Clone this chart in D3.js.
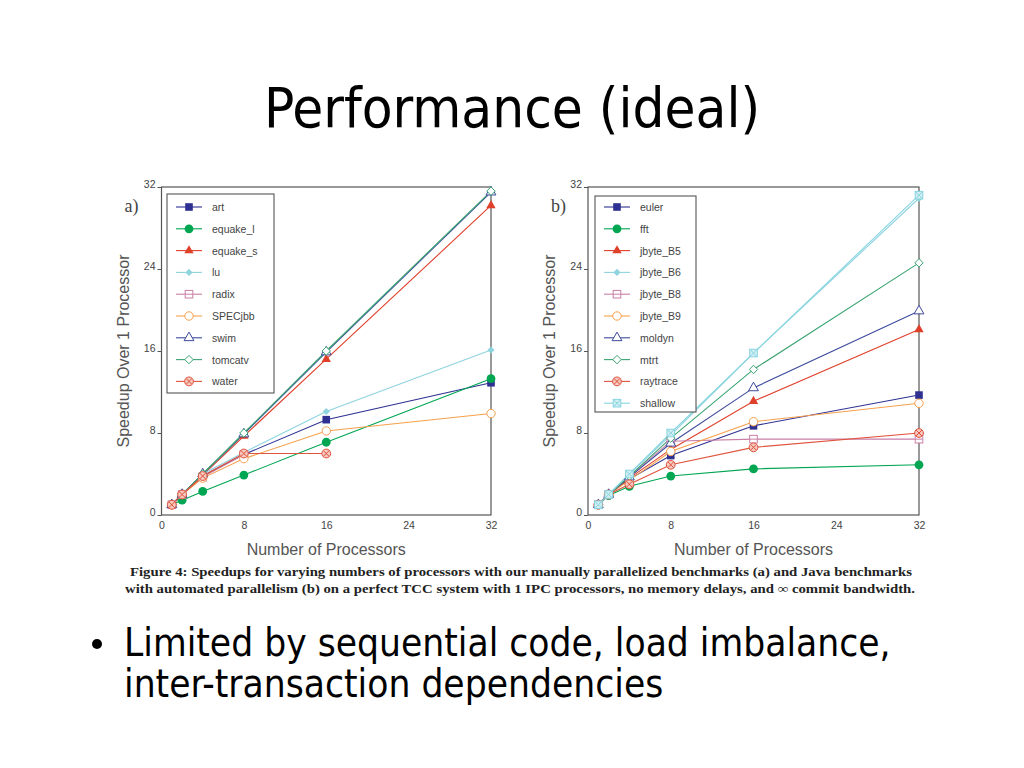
<!DOCTYPE html>
<html>
<head>
<meta charset="utf-8">
<script src="https://cdn.jsdelivr.net/npm/d3@7"></script>
<style>
  body { margin: 0; background: #fff; }
  svg { display: block; }
</style>
</head>
<body>
<svg id="slide" width="1024" height="768"></svg>
<script>
// x values shared by both panels
var processors = [1, 2, 4, 8, 16, 32];
var axisTicks = [0, 8, 16, 24, 32];

// panel a) manually parallelized benchmarks
var namesA = ["art", "equake_l", "equake_s", "lu", "radix", "SPECjbb", "swim", "tomcatv", "water"];
var valuesA = [
  [1, 2, 3.8, 5.9, 9.3, 12.9],
  [1, 1.45, 2.3, 3.9, 7.1, 13.3],
  [1, 2, 3.9, 7.7, 15.2, 30.2],
  [1, 2, 4, 6.1, 10.1, 16.1],
  [1, 2, 3.7, 5.9],
  [1, 2, 3.6, 5.5, 8.2, 9.9],
  [1, 2, 4, 7.9, 15.9, 31.5],
  [1, 2, 4, 8, 16, 31.6],
  [1, 2, 3.8, 6, 6]
];

// panel b) Java benchmarks with automated parallelism
var namesB = ["euler", "fft", "jbyte_B5", "jbyte_B6", "jbyte_B8", "jbyte_B9", "moldyn", "mtrt", "raytrace", "shallow"];
var valuesB = [
  [1, 2, 3.5, 5.8, 8.7, 11.7],
  [1, 1.9, 2.8, 3.8, 4.5, 4.9],
  [1, 2, 3.6, 6.4, 11.1, 18.1],
  [1, 2, 4, 7.8, 15.8, 30.9],
  [1, 2, 3.8, 7.2, 7.4, 7.4],
  [1, 2, 3.4, 6.2, 9.1, 10.9],
  [1, 2, 3.7, 7, 12.4, 19.9],
  [1, 2, 3.8, 7.5, 14.2, 24.6],
  [1, 2, 3, 4.9, 6.6, 8],
  [1, 2, 4, 8, 15.8, 31.2]
];

var colors = ["#2e3192", "#00a651", "#e0402a", "#8fd3df", "#c97fa6", "#f6a04d", "#3d4a9c", "#3aa472", "#e0533d", "#87d5e0"];
var shapes = ["sq", "ci", "tri", "dia", "sqline", "oci", "otri", "odia", "cix", "sqx"];

var svg = d3.select("#slide");

svg.append("text")
  .attr("x", 512).attr("y", 127)
  .attr("text-anchor", "middle")
  .style("font-family", "DejaVu Sans Condensed")
  .style("font-size", "56px")
  .text("Performance (ideal)");

function drawMarker(g, shape, color, cx, cy) {
  var s = 3.8;
  var m = g.append("g").attr("transform", "translate(" + cx + "," + cy + ")");
  if (shape == "sq") {
    m.append("rect").attr("x", -s).attr("y", -s).attr("width", 2 * s).attr("height", 2 * s).attr("fill", color);
  } else if (shape == "ci") {
    m.append("circle").attr("r", s + 0.6).attr("fill", color);
  } else if (shape == "tri") {
    m.append("path").attr("d", d3.symbol(d3.symbolTriangle, 38)).attr("fill", color);
  } else if (shape == "dia") {
    m.append("path").attr("d", "M0,-3.6L3.6,0L0,3.6L-3.6,0Z").attr("fill", color);
  } else if (shape == "sqline") {
    m.append("rect").attr("x", -s).attr("y", -s).attr("width", 2 * s).attr("height", 2 * s)
      .attr("fill", "#fff").attr("stroke", color);
    m.append("line").attr("x1", -s).attr("x2", s).attr("stroke", color);
  } else if (shape == "oci") {
    m.append("circle").attr("r", s + 0.4).attr("fill", "#fff").attr("stroke", color);
  } else if (shape == "otri") {
    m.append("path").attr("d", d3.symbol(d3.symbolTriangle, 42)).attr("fill", "#fff").attr("stroke", color);
  } else if (shape == "odia") {
    m.append("path").attr("d", "M0,-4.2L4.2,0L0,4.2L-4.2,0Z").attr("fill", "#fff").attr("stroke", color);
  } else if (shape == "cix") {
    m.append("circle").attr("r", s + 0.6).attr("fill", "#f6c7bd").attr("stroke", color);
    m.append("path").attr("d", "M-2.9,-2.9L2.9,2.9M-2.9,2.9L2.9,-2.9").attr("stroke", color);
  } else if (shape == "sqx") {
    m.append("rect").attr("x", -s).attr("y", -s).attr("width", 2 * s).attr("height", 2 * s)
      .attr("fill", "#d2eef3").attr("stroke", color);
    m.append("path").attr("d", "M-3.8,-3.8L3.8,3.8M-3.8,3.8L3.8,-3.8").attr("stroke", color);
  }
}

function drawPanel(opts) {
  var x = d3.scaleLinear().domain([0, 32]).range([opts.left, opts.right]);
  var y = d3.scaleLinear().domain([0, 32]).range([515, 187]);
  var g = svg.append("g");

  // frame
  g.append("rect")
    .attr("x", opts.left).attr("y", 187)
    .attr("width", opts.right - opts.left).attr("height", 328)
    .attr("fill", "none").attr("stroke", "#555").attr("stroke-width", 1.2);

  var ax = g.append("g").attr("transform", "translate(0,515)")
    .call(d3.axisBottom(x).tickValues(axisTicks).tickSize(0).tickPadding(7));
  var ay = g.append("g").attr("transform", "translate(" + opts.left + ",0)")
    .call(d3.axisLeft(y).tickValues(axisTicks).tickSize(4).tickPadding(2));
  [ax, ay].forEach(function (a) {
    a.select(".domain").remove();
    a.selectAll("line").attr("stroke", "#555");
    a.selectAll("text").attr("fill", "#444")
      .style("font-family", "Liberation Sans").style("font-size", "10.5px");
  });
  ay.selectAll("text").attr("dy", "0.05em");

  g.append("text")
    .attr("x", (opts.left + opts.right) / 2).attr("y", 555)
    .attr("text-anchor", "middle").attr("fill", "#555")
    .style("font-family", "Liberation Sans").style("font-size", "16px")
    .text("Number of Processors");

  g.append("text")
    .attr("transform", "translate(" + (opts.left - 33) + ",351) rotate(-90)")
    .attr("text-anchor", "middle").attr("fill", "#555")
    .style("font-family", "Liberation Sans").style("font-size", "16px")
    .text("Speedup Over 1 Processor");

  g.append("text")
    .attr("x", opts.left - 37).attr("y", 212)
    .attr("fill", "#444")
    .style("font-family", "Liberation Serif").style("font-size", "18px")
    .text(opts.tag);

  var line = d3.line()
    .x(function (d, i) { return x(processors[i]); })
    .y(function (d) { return y(d); });

  opts.values.forEach(function (vals, k) {
    g.append("path").datum(vals)
      .attr("d", line).attr("fill", "none")
      .attr("stroke", colors[k]).attr("stroke-width", 1.1);
  });
  opts.values.forEach(function (vals, k) {
    vals.forEach(function (v, i) {
      drawMarker(g, shapes[k], colors[k], x(processors[i]), y(v));
    });
  });

  // legend
  var lg = g.append("g");
  lg.append("rect")
    .attr("x", opts.legX).attr("y", opts.legTop)
    .attr("width", opts.legW).attr("height", opts.legBottom - opts.legTop)
    .attr("fill", "#fff").attr("stroke", "#555").attr("stroke-width", 1.1);
  opts.names.forEach(function (name, k) {
    var yy = 207 + k * 21.8;
    lg.append("line")
      .attr("x1", opts.legX + 9).attr("x2", opts.legX + 35)
      .attr("y1", yy).attr("y2", yy)
      .attr("stroke", colors[k]).attr("stroke-width", 1.1);
    drawMarker(lg, shapes[k], colors[k], opts.legX + 22, yy);
    lg.append("text")
      .attr("x", opts.legX + 45).attr("y", yy + 4)
      .attr("fill", "#444")
      .style("font-family", "Liberation Sans").style("font-size", "10.5px")
      .text(name);
  });
}

drawPanel({ left: 161.5, right: 491, names: namesA, values: valuesA, tag: "a)",
  legX: 167, legW: 107, legTop: 194, legBottom: 393 });
drawPanel({ left: 588, right: 919, names: namesB, values: valuesB, tag: "b)",
  legX: 595, legW: 101, legTop: 196, legBottom: 412 });

// caption
var caption = [
  { text: "Figure 4: Speedups for varying numbers of processors with our manually parallelized benchmarks (a) and Java benchmarks", x: 130, y: 576, w: 782 },
  { text: "with automated parallelism (b) on a perfect TCC system with 1 IPC processors, no memory delays, and \u221e commit bandwidth.", x: 125, y: 593, w: 790 }
];
caption.forEach(function (c) {
  svg.append("text")
    .attr("x", c.x).attr("y", c.y)
    .attr("textLength", c.w).attr("lengthAdjust", "spacingAndGlyphs")
    .attr("fill", "#222")
    .style("font-family", "Liberation Serif").style("font-weight", "bold").style("font-size", "12.5px")
    .text(c.text);
});

// bullet text
svg.append("circle").attr("cx", 97).attr("cy", 644).attr("r", 5).attr("fill", "#000");
var bullet = ["Limited by sequential code, load imbalance,", "inter-transaction dependencies"];
bullet.forEach(function (t, i) {
  svg.append("text")
    .attr("x", 124).attr("y", 656 + i * 41)
    .style("font-family", "DejaVu Sans Condensed").style("font-size", "38.5px")
    .text(t);
});
</script>
</body>
</html>
